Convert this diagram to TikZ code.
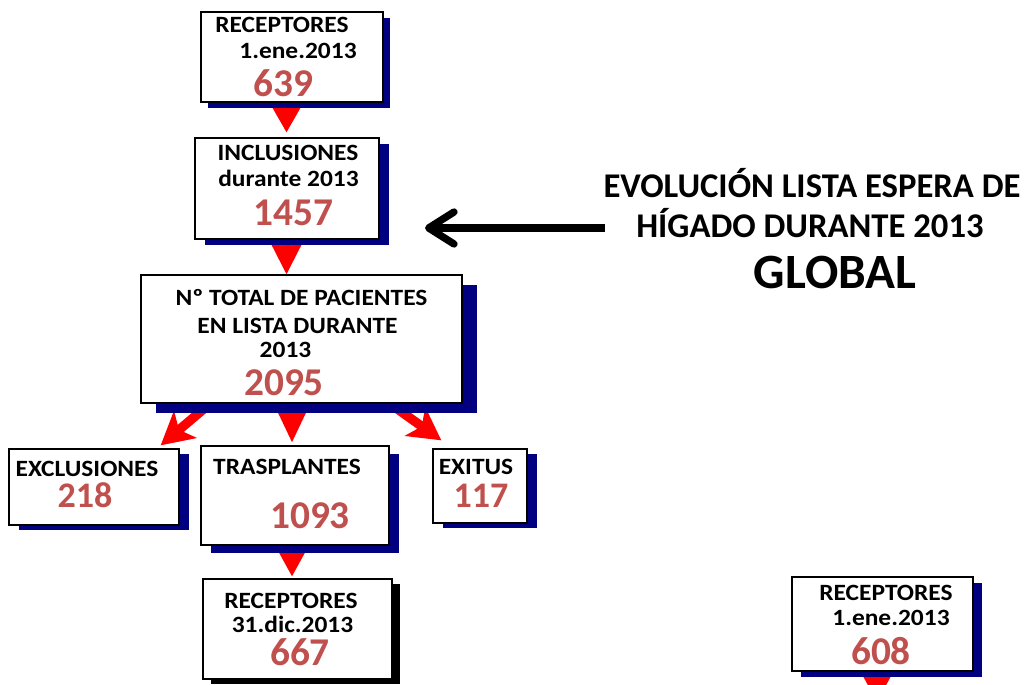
\documentclass[tikz,border=0pt]{standalone}
\usepackage{fontspec}
\setmainfont{Carlito}
\newfontfamily\lblfam{Carlito}[FakeStretch=1.09]
\usetikzlibrary{arrows.meta,shadows,calc}
\pgfdeclarelayer{background}
\pgfsetlayers{background,main}
\definecolor{navyshadow}{RGB}{0,0,128}
\definecolor{numred}{RGB}{192,80,77}
\newcommand{\lblfont}{\lblfam\fontsize{17.5}{20}\selectfont\bfseries}
\newcommand{\numfont}{\fontsize{29.5}{32}\selectfont\bfseries}
\newcommand{\numfontsmall}{\fontsize{27}{30}\selectfont\bfseries}
\tikzset{
  box/.style={draw=black, line width=1pt, fill=white, inner sep=0pt},
  lbl/.style={anchor=base, inner sep=0pt, font=\lblfont, text=black},
  num/.style={anchor=base, inner sep=0pt, font=\numfont, text=numred},
  numsm/.style={anchor=base, inner sep=0pt, font=\numfontsmall, text=numred},
  redarr/.style={draw=red, line width=7pt, -{Stealth[length=#1, width=26pt, inset=6pt]}, red},
  blackarr/.style={draw=black, line width=5.5pt, -{Straight Barb[length=19pt, width=24pt, line cap=round, line join=round]}},
  title/.style={anchor=base, inner sep=0pt, font=\fontsize{26}{30}\selectfont\bfseries},
}
\begin{document}
\begin{tikzpicture}[x=0.75pt, y=-0.75pt]
\useasboundingbox (0,0) rectangle (1028,685);
% boxes
\node[box, minimum width=136.5pt, minimum height=67.5pt,
  drop shadow={shadow xshift=5.25pt, shadow yshift=-4.5pt, fill=navyshadow, opacity=1}] (b1) at (292,57) {};
\node[box, minimum width=138pt, minimum height=75.75pt,
  drop shadow={shadow xshift=7.5pt, shadow yshift=-4.5pt, fill=navyshadow, opacity=1}] (b2) at (287,188.5) {};
\node[box, minimum width=240.75pt, minimum height=96pt,
  drop shadow={shadow xshift=11.5pt, shadow yshift=-7.5pt, fill=navyshadow, opacity=1}] (b3) at (301.5,339) {};
\node[box, minimum width=127.5pt, minimum height=57pt,
  drop shadow={shadow xshift=7.5pt, shadow yshift=-4pt, fill=navyshadow, opacity=1}] (excl) at (94,487) {};
\node[box, minimum width=141pt, minimum height=74.25pt,
  drop shadow={shadow xshift=7.5pt, shadow yshift=-6pt, fill=navyshadow, opacity=1}] (trasp) at (295,495.5) {};
\node[box, minimum width=70.5pt, minimum height=55.5pt,
  drop shadow={shadow xshift=7.5pt, shadow yshift=-4pt, fill=navyshadow, opacity=1}] (exitus) at (480,486) {};
\node[box, minimum width=141.75pt, minimum height=75pt,
  drop shadow={shadow xshift=6pt, shadow yshift=-4pt, fill=black, opacity=1}] (rec31) at (297.5,629) {};
\node[box, minimum width=135.75pt, minimum height=70.5pt,
  drop shadow={shadow xshift=7pt, shadow yshift=-4.5pt, fill=navyshadow, opacity=1}] (rec608) at (882.5,624) {};
% texts
\node[lbl] (b1a) at (282,33) {RECEPTORES};
\node[lbl] (b1b) at (298,59) {1.ene.2013};
\node[num] (b1c) at (283.5,97) {639};
\node[lbl] (b2a) at (288,160) {INCLUSIONES};
\node[lbl] (b2b) at (288.5,186) {durante 2013};
\node[num] (b2c) at (293.5,225) {1457};
\node[lbl] (b3a) at (301.5,305) {Nº TOTAL DE PACIENTES};
\node[lbl] (b3b) at (297.5,333) {EN LISTA DURANTE};
\node[lbl] (b3c) at (285.5,357) {2013};
\node[num] (b3d) at (284,395) {2095};
\node[lbl] (exa) at (87,476) {EXCLUSIONES};
\node[numsm] (exb) at (85,507) {218};
\node[lbl] (tra) at (287,474) {TRASPLANTES};
\node[num] (trb) at (310,528) {1093};
\node[lbl] (eta) at (476,474) {EXITUS};
\node[numsm] (etb) at (481,507) {117};
\node[lbl] (r31a) at (291,608) {RECEPTORES};
\node[lbl] (r31b) at (292.5,632) {31.dic.2013};
\node[num] (r31c) at (300,665) {667};
\node[lbl] (r6a) at (886,600) {RECEPTORES};
\node[lbl] (r6b) at (891,625) {1.ene.2013};
\node[num] (r6c) at (881,664) {608};
% title
\node[title] (t1) at (812,197) {EVOLUCIÓN LISTA ESPERA DE};
\node[title] (t2) at (810,237) {HÍGADO DURANTE 2013};
\node[anchor=base, inner sep=0pt, font=\fontsize{37}{40}\selectfont\bfseries] (t3) at (835,288) {GLOBAL};
% black arrow
\coordinate (ta) at (605,228);
\coordinate (tb) at (425,228);
\draw[blackarr] (ta) -- (tb);
% red arrows
\begin{pgfonlayer}{background}
\draw[redarr=23pt] ($(b1.south)+(-5.5,-4)$) -- ($(b2.north)+(-0.5,-5)$);
\draw[redarr=26pt] ($(b2.south)+(-0.5,-4)$) -- ($(b3.north)+(-15,0)$);
\draw[redarr=28pt] ($(b3.south)+(-9.5,0)$) -- ($(trasp.north)+(-3,-3)$);
\draw[redarr=24pt] ($(b3.south)+(-91.5,0)$) -- ($(excl.north east)+(-19,-3)$);
\draw[redarr=24pt] ($(b3.south)+(88.5,0)$) -- ($(exitus.north west)+(9,-8)$);
\draw[redarr=24pt] ($(trasp.south)+(-3,-4)$) -- ($(rec31.north)+(-5.5,-2)$);
\draw[redarr=24pt] ($(rec608.south)+(-5.5,-4)$) -- ($(rec608.south)+(-5.5,30)$);
\end{pgfonlayer}
\end{tikzpicture}
\end{document}
